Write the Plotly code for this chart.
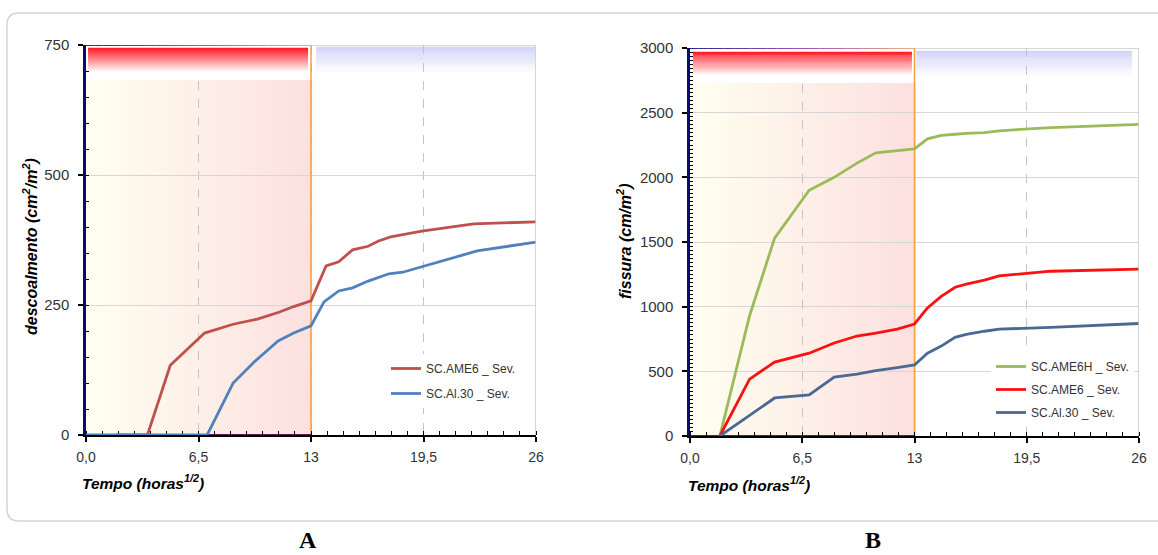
import plotly.graph_objects as go

W, H = 1158, 555

# ---------------- data ----------------
# Panel A: descoalmento (cm2/m2)
xA_ame6 = [1.7, 3.55, 4.87, 6.85, 8.5, 9.9, 11.15, 12.0, 13.0, 13.87, 14.6, 15.4, 16.3, 16.9, 17.6, 19.4, 22.4, 26.0]
yA_ame6 = [0, 0, 134, 196, 213, 223, 236, 247, 258, 325, 333, 356, 363, 373, 381, 392, 406, 410]
xA_al30 = [0, 7.0, 8.5, 9.7, 11.1, 12.0, 13.0, 13.75, 14.6, 15.4, 16.3, 17.5, 18.3, 22.6, 26.0]
yA_al30 = [0, 0, 100, 140, 181, 196, 210, 256, 277, 283, 296, 310, 313, 354, 371]

# Panel B: fissura (cm/m2)
xB = [1.73, 3.45, 4.9, 6.9, 8.35, 9.67, 10.76, 12.0, 13.0, 13.75, 14.55, 15.35, 16.0, 17.05, 17.9, 20.9, 26.0]
yB_ame6h = [0, 930, 1530, 1900, 2000, 2110, 2190, 2205, 2220, 2298, 2325, 2333, 2340, 2345, 2360, 2385, 2410]
yB_ame6 = [0, 440, 572, 640, 719, 773, 796, 827, 866, 990, 1080, 1150, 1175, 1205, 1238, 1274, 1290]
yB_al30 = [0, 163, 294, 317, 456, 479, 505, 528, 549, 640, 695, 763, 785, 810, 826, 840, 870]

names_A = ["SC.AME6 _ Sev.", "SC.Al.30 _ Sev."]
names_B = ["SC.AME6H _ Sev.", "SC.AME6 _ Sev.", "SC.Al.30 _ Sev."]

x_tickvals = [0, 6.5, 13, 19.5, 26]
x_ticktext = ["0,0", "6,5", "13", "19,5", "26"]
yA_tickvals = [0, 250, 500, 750]
yB_tickvals = [0, 500, 1000, 1500, 2000, 2500, 3000]

# ---------------- helpers ----------------
def lerp(c1, c2, t):
    return "rgb(%d,%d,%d)" % tuple(round(a + (b - a) * t) for a, b in zip(c1, c2))

shapes = []

def hgrad(xr, yr, x0, x1, y0, y1, c0, c1, n, layer):
    w = (x1 - x0) / n
    for i in range(n):
        shapes.append(dict(type="rect", xref=xr, yref=yr, x0=x0 + i * w, x1=x0 + (i + 1) * w + w * 0.3,
                           y0=y0, y1=y1, fillcolor=lerp(c0, c1, (i + 0.5) / n), line=dict(width=0), layer=layer))

def vgrad(xr, yr, x0, x1, y0, y1, c0, c1, n, layer):
    h = (y1 - y0) / n
    for i in range(n):
        shapes.append(dict(type="rect", xref=xr, yref=yr, x0=x0, x1=x1, y0=y0 + i * h,
                           y1=y0 + (i + 1) * h + h * 0.3, fillcolor=lerp(c0, c1, (i + 0.5) / n),
                           line=dict(width=0), layer=layer))

def panel_deco(xr, yr, ymax, bg_top, red_y, red_x, blue_y, blue_x):
    # cream -> pink background of first period
    hgrad(xr, yr, 0, 13, 0, bg_top, (255, 255, 240), (252, 224, 224), 52, "below")
    # white backdrop + red band on top
    shapes.append(dict(type="rect", xref=xr, yref=yr, x0=0, x1=13, y0=bg_top, y1=ymax,
                       fillcolor="white", line=dict(width=0), layer="between"))
    vgrad(xr, yr, red_x[0], red_x[1], red_y[0], red_y[1], (255, 255, 255), (255, 25, 35), 24, "between")
    # blue band for second period
    vgrad(xr, yr, blue_x[0], blue_x[1], blue_y[0], blue_y[1], (255, 255, 255), (210, 210, 248), 24, "below")
    # top border: gradient from navy to peach on 0-13, grey afterwards
    n = 26
    for i in range(n):
        t = (i + 0.5) / n
        if t < 0.5:
            col = lerp((40, 40, 150), (160, 80, 180), t / 0.5)
        else:
            col = lerp((160, 80, 180), (245, 170, 130), (t - 0.5) / 0.5)
        shapes.append(dict(type="line", xref=xr, yref=yr, x0=13 * i / n, x1=13 * (i + 1) / n,
                           y0=ymax, y1=ymax, line=dict(color=col, width=2), layer="above"))
    shapes.append(dict(type="line", xref=xr, yref=yr, x0=13, x1=26, y0=ymax, y1=ymax,
                       line=dict(color="#C8C8C8", width=1.5), layer="above"))
    shapes.append(dict(type="line", xref=xr, yref=yr, x0=26, x1=26, y0=0, y1=ymax,
                       line=dict(color="#C8C8C8", width=1.5), layer="above"))
    # orange divider at 13
    shapes.append(dict(type="line", xref=xr, yref=yr, x0=13, x1=13, y0=0, y1=ymax,
                       line=dict(color="#F5A040", width=1.5), layer="between"))
    # purple-ish axis stretch on first period
    shapes.append(dict(type="line", xref=xr, yref=yr, x0=0, x1=13, y0=0, y1=0,
                       line=dict(color="#5A1A6A", width=2), layer="between"))

panel_deco("x", "y", 750, 683, (698, 744), (0.12, 12.83), (696, 746), (13.3, 25.95))
panel_deco("x2", "y2", 3000, 2729, (2791, 2969), (0.17, 12.85), (2776, 2977), (13.1, 25.6))

# outer rounded frame
px = lambda v: v / W
py = lambda v: 1 - v / H
r = 12
x0f, x1f, y0f, y1f = 7, 1175, 13, 521
path = ("M {a},{b} L {c},{b} L {c},{d} L {e},{d} Q {f},{d} {f},{g} L {f},{h} Q {f},{b} {e},{b} Z").format(
    a=px(x0f + r), b=py(y0f), c=px(x1f), d=py(y1f), e=px(x0f + r), f=px(x0f), g=py(y1f - r), h=py(y0f + r))
shapes.append(dict(type="path", xref="paper", yref="paper", path=path,
                   line=dict(color="#D4D4D4", width=1.5), fillcolor="rgba(0,0,0,0)", layer="below"))

# ---------------- traces ----------------
fig = go.Figure()
fig.add_trace(go.Scatter(x=xA_ame6, y=yA_ame6, name=names_A[0], mode="lines",
                         line=dict(color="#C0504D", width=2.8), xaxis="x", yaxis="y",
                         legend="legend", legendgroup="a1"))
fig.add_trace(go.Scatter(x=xA_al30, y=yA_al30, name=names_A[1], mode="lines",
                         line=dict(color="#4F81BD", width=2.8), xaxis="x", yaxis="y",
                         legend="legend", legendgroup="a2"))
fig.add_trace(go.Scatter(x=xB, y=yB_ame6h, name=names_B[0], mode="lines",
                         line=dict(color="#9BBB59", width=2.8), xaxis="x2", yaxis="y2",
                         legend="legend2", legendgroup="b1"))
fig.add_trace(go.Scatter(x=xB, y=yB_ame6, name=names_B[1], mode="lines",
                         line=dict(color="#FF1010", width=2.8), xaxis="x2", yaxis="y2",
                         legend="legend2", legendgroup="b2"))
fig.add_trace(go.Scatter(x=xB, y=yB_al30, name=names_B[2], mode="lines",
                         line=dict(color="#4A6894", width=2.8), xaxis="x2", yaxis="y2",
                         legend="legend2", legendgroup="b3"))

tickfont = dict(family="Liberation Sans, Arial", size=15, color="#333333")
xtickfont = dict(family="Liberation Sans, Arial", size=14, color="#333333")

def xaxis(domain, anchor):
    return dict(domain=domain, anchor=anchor, range=[0, 26], tickvals=x_tickvals, ticktext=x_ticktext,
                showgrid=True, gridcolor="#C4C4C4", griddash="dash", gridwidth=1,
                showline=True, linecolor="black", linewidth=2, ticks="outside", ticklen=5,
                tickcolor="black", tickwidth=1.5, tickfont=xtickfont, zeroline=False,
                ticklabelstandoff=3, layer="below traces", automargin=False,
                minor=dict(dtick=6.5 / 7, tick0=0, ticks="inside", ticklen=4, tickcolor="black",
                           tickwidth=1.2, showgrid=False))

def yaxis(domain, anchor, ymax, tv, mdt):
    return dict(domain=domain, anchor=anchor, range=[0, ymax], tickvals=tv,
                showgrid=True, gridcolor="#D6D6D6", gridwidth=1.2,
                showline=True, linecolor="#0A0A70", linewidth=2.5, ticks="outside", ticklen=5,
                tickcolor="black", tickwidth=1.5, tickfont=tickfont, zeroline=False,
                ticklabelstandoff=6, layer="below traces", automargin=False,
                minor=dict(dtick=mdt, tick0=0, ticks="inside", ticklen=3, tickcolor="black",
                           tickwidth=1.2, showgrid=False))

def ann(text, x, y, size, family="Liberation Sans, Arial", angle=0):
    return dict(text=text, textangle=angle, x=px(x), y=py(y), xref="paper", yref="paper",
                showarrow=False, xanchor="center", yanchor="middle",
                font=dict(family=family, size=size, color="black"))

annotations = [
    ann("<b><i>descoalmento (cm<sup>2</sup>/m<sup>2</sup>)</i></b>", 30, 247, 16, angle=-90),
    ann("<b><i>fissura (cm/m<sup>2</sup>)</i></b>", 624, 241, 16, angle=-90),
    ann("<b><i>Tempo (horas<sup>1/2</sup>)</i></b>", 143, 482, 15.5),
    ann("<b><i>Tempo (horas<sup>1/2</sup>)</i></b>", 749, 484, 15.5),
    ann("<b>A</b>", 308, 540, 24, family="Liberation Serif, Times New Roman"),
    ann("<b>B</b>", 873, 540, 24, family="Liberation Serif, Times New Roman"),
]

legfont = dict(family="Liberation Sans, Arial", size=12, color="#333333")

fig.update_layout(
    width=W, height=H,
    margin=dict(l=0, r=0, t=0, b=0, pad=0, autoexpand=False),
    paper_bgcolor="white", plot_bgcolor="white",
    xaxis=xaxis([px(86), px(536)], "y"),
    yaxis=yaxis([py(435), py(45)], "x", 750, yA_tickvals, 50),
    xaxis2=xaxis([px(690), px(1139)], "y2"),
    yaxis2=yaxis([py(436), py(48)], "x2", 3000, yB_tickvals, 500 / 16),
    shapes=shapes,
    annotations=annotations,
    legend=dict(x=px(386), y=py(354), xanchor="left", yanchor="top", bgcolor="white",
                font=legfont, tracegroupgap=6, traceorder="grouped", itemwidth=30),
    legend2=dict(x=px(991), y=py(352), xanchor="left", yanchor="top", bgcolor="white",
                 font=legfont, tracegroupgap=4, traceorder="grouped", itemwidth=30),
    showlegend=True,
)

fig.write_html("out.html", config={"displayModeBar": False},
               post_script="document.body.style.margin='0';document.body.style.overflow='hidden';")
